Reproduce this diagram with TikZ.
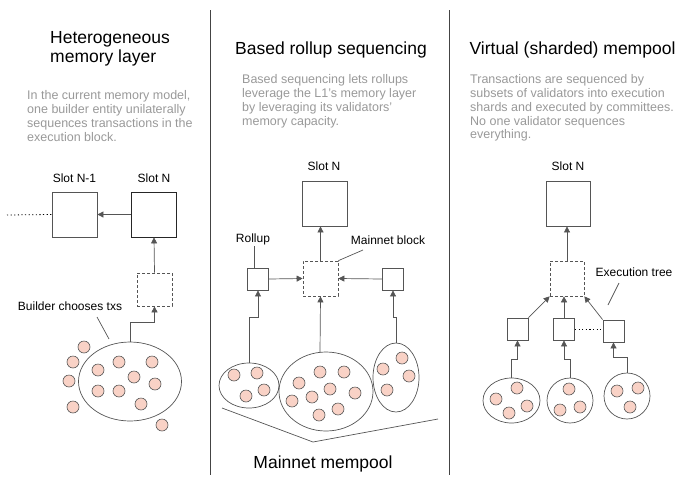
\documentclass[tikz,border=0pt]{standalone}
\usepackage{fontspec}
\setmainfont{Liberation Sans}
\usetikzlibrary{arrows.meta,shapes.geometric,calc}
\definecolor{txfill}{HTML}{F9D2C6}
\definecolor{linec}{HTML}{555555}
\definecolor{desc}{HTML}{999999}
\definecolor{divc}{HTML}{444444}
\tikzset{
  ttl/.style={font=\fontsize{17.5}{19}\selectfont, text=black, inner sep=0pt, align=left},
  dsc/.style={font=\fontsize{12.5}{13.8}\selectfont, text=desc, inner sep=0pt, align=left, anchor=north west},
  lbl/.style={font=\fontsize{12}{14}\selectfont, inner sep=0pt, anchor=base},
  blk/.style={draw=linec, line width=0.8pt, minimum width=45pt, minimum height=45pt, inner sep=0pt},
  dbox/.style={draw=linec, line width=0.7pt, dash pattern=on 3pt off 2pt, inner sep=0pt},
  sbox/.style={draw=linec, line width=0.8pt, minimum width=21pt, minimum height=22pt, inner sep=0pt},
  pool/.style={draw=linec, line width=0.7pt, ellipse, inner sep=0pt},
  arr/.style={draw=linec, line width=0.7pt, -{Triangle[length=6pt,width=6pt]}},
  ln/.style={draw=linec, line width=0.7pt},
  dotl/.style={draw=black, line width=0.8pt, dash pattern=on 1.2pt off 2.4pt},
  tx/.style={draw=linec, line width=0.6pt, fill=txfill},
  divl/.style={draw=divc, line width=0.9pt}
}
\begin{document}
\begin{tikzpicture}[x=1pt,y=-1pt]
\useasboundingbox (0,0) rectangle (690,490);
% dividers
\draw[divl] (210,10) -- (210,475);
\draw[divl] (449,10) -- (449,475);

% ---------- Panel 1 ----------
\node[ttl, anchor=north west] (t1) at (50,31) {Heterogeneous\\memory layer};
\node[dsc] (d1) at (27,90.5) {In the current memory model,\\one builder entity unilaterally\\sequences transactions in the\\execution block.};
\node[lbl] (lsn1) at (74.5,182) {Slot N-1};
\node[lbl] (lsn) at (154,182) {Slot N};
\node[blk] (slotNm1) at (74.5,214.5) {};
\node[blk, draw=black!85] (slotN1) at (154,214.5) {};
\node[dbox, minimum width=35pt, minimum height=33pt] (dash1) at (154.5,289.5) {};
\node[pool, minimum width=103pt, minimum height=79pt] (ell1) at (130,381.5) {};
\coordinate (dotstart1) at (7,215);
\draw[dotl] (dotstart1) -- (slotNm1.west);
\draw[arr] (slotN1.west) -- (slotNm1.east);
\draw[arr] (dash1.north) -- (slotN1.south);
\draw[arr] (ell1.north) -- ++(0,-19) -| (dash1.south);
\node[lbl] (b1) at (70,310) {Builder chooses txs};
\coordinate (b1a) at (97,317);
\coordinate (b1b) at (109,339);
\draw[ln] (b1a) -- (b1b);
\foreach \p in {(84,347),(73,362),(69,381),(73,407),(98,370),(119,362),(152,362),(134,377),(155,384),(98,391),(119,391),(141,404),(162,425)}
  \draw[tx] \p circle[radius=6pt];

% ---------- Panel 2 ----------
\node[ttl, anchor=base] (t2) at (331,54) {Based rollup sequencing};
\node[dsc] (d2) at (242,74.5) {Based sequencing lets rollups\\leverage the L1's memory layer\\by leveraging its validators'\\memory capacity.};
\node[lbl] (lsn2) at (324,170) {Slot N};
\node[blk] (slotN2) at (324.5,203.5) {};
\node[dbox, minimum width=35pt, minimum height=35pt] (dash2) at (320.5,278.5) {};
\node[sbox] (rollL) at (258,279) {};
\node[sbox] (rollR) at (393,279) {};
\node[pool, minimum width=60pt, minimum height=45pt] (ellL) at (249,385.5) {};
\node[pool, minimum width=94pt, minimum height=79pt] (ellM) at (326,391.5) {};
\node[pool, minimum width=46pt, minimum height=69pt] (ellR) at (396,377.5) {};
\draw[arr] (rollL.east) -- (dash2.west);
\draw[arr] (rollR.west) -- (dash2.east);
\draw[arr] (dash2.north) -- (dash2.north |- slotN2.south);
\draw[arr] (ellL.north) |- (258,317) -- (rollL.south);
\draw[arr] (ellR.north) |- (393,317) -- (rollR.south);
\coordinate (mtop) at (320,352.5);
\draw[arr] (mtop) -- (dash2.south);
\node[lbl] (lroll) at (253,242) {Rollup};
\coordinate (lrollb) at (254,246);
\draw[ln] (lrollb) -- (lrollb |- rollL.north);
\node[lbl] (lmb) at (388,244.3) {Mainnet block};
\coordinate (lmba) at (363,250);
\draw[ln] (lmba) -- (dash2.north east);
\coordinate (br1) at (222,408);
\coordinate (br2) at (313,442);
\coordinate (br3) at (438,419);
\draw[ln] (br1) -- (br2) -- (br3);
\node[ttl, anchor=base] (mm) at (323,468) {Mainnet mempool};
\foreach \p in {(234,375),(257,373),(246,396),(264,390),
  (320,372),(344,372),(299,383),(330,389),(355,393),(292,401),(312,397),(338,409),(319,415),
  (402,358),(383,369),(409,376),(387,390)}
  \draw[tx] \p circle[radius=6pt];

% ---------- Panel 3 ----------
\node[ttl, anchor=base] (t3) at (572.5,54) {Virtual (sharded) mempool};
\node[dsc] (d3) at (470,74.5) {Transactions are sequenced by\\subsets of validators into execution\\shards and executed by committees.\\No one validator sequences\\everything.};
\node[lbl] (lsn3) at (568,170) {Slot N};
\node[blk, minimum width=44pt] (slotN3) at (568,203.5) {};
\node[dbox, minimum width=34pt, minimum height=35pt] (dash3) at (567,278.5) {};
\node[sbox] (sbL) at (517.5,329) {};
\node[sbox] (sbM) at (564,329) {};
\node[sbox] (sbR) at (613.5,331) {};
\node[pool, minimum width=57pt, minimum height=45pt] (eL) at (511.5,400.5) {};
\node[pool, minimum width=46pt, minimum height=45pt] (eM) at (570,400.5) {};
\node[pool, minimum width=46pt, minimum height=46pt] (eR) at (627,396) {};
\draw[arr] (dash3.north) -- (dash3.north |- slotN3.south);
\draw[arr] (sbL.north east) -- (dash3.south west);
\draw[arr] (sbM.north) -- (sbM.north |- dash3.south);
\draw[arr] (sbR.north west) -- (dash3.south east);
\draw[dotl] (sbM.east) -- (sbM.east -| sbR.west);
\draw[arr] (eL.north) |- (517.5,359) -- (sbL.south);
\draw[arr] (eM.north) |- (564,359) -- (sbM.south);
\draw[arr] (eR.north) |- (613.5,357) -- (sbR.south);
\node[lbl] (let) at (634,276.7) {Execution tree};
\coordinate (leta) at (619,283);
\coordinate (letb) at (608,305);
\draw[ln] (leta) -- (letb);
\foreach \p in {(517,388),(496,399),(527,406),(509,413),
  (569,389),(560,410),(580,407),
  (617,391),(638,388),(630,407)}
  \draw[tx] \p circle[radius=6pt];
\end{tikzpicture}
\end{document}
